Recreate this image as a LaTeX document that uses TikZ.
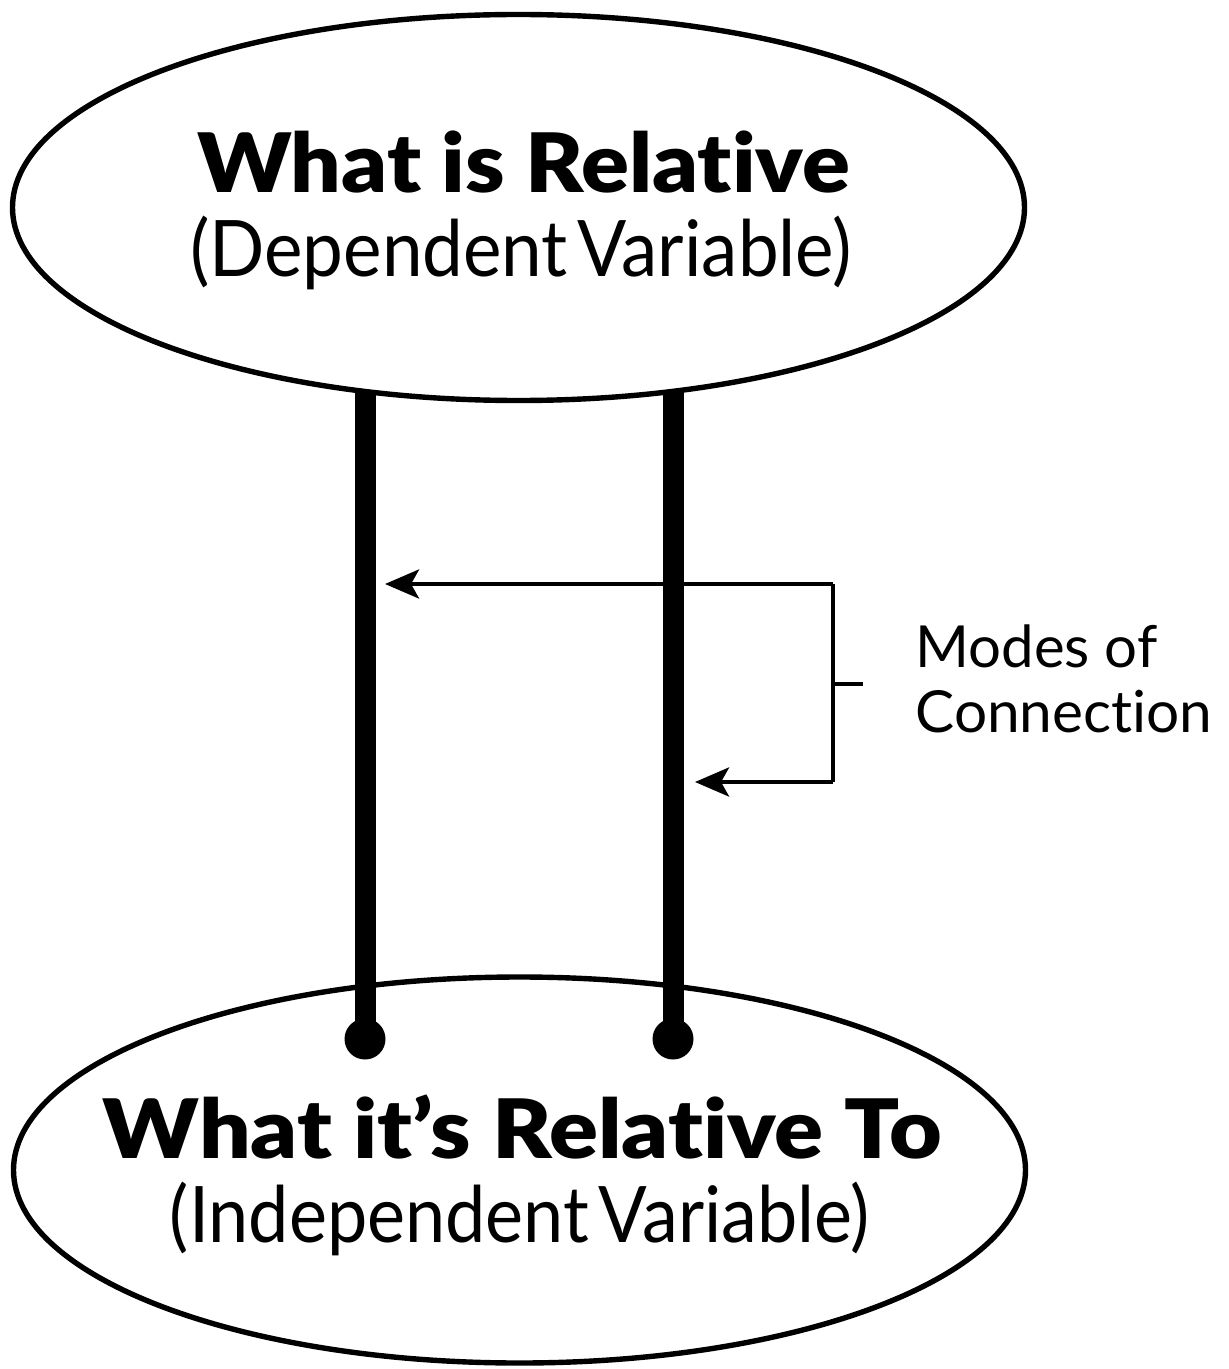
\documentclass[tikz,border=0pt]{standalone}
\usepackage{fontspec}
\usepackage{graphicx}
\setmainfont{Lato}[Ligatures={NoCommon,NoContextual}]
\newfontfamily\heavyfont{Lato Black}[Ligatures={NoCommon,NoContextual}]
\usetikzlibrary{shapes.geometric,arrows.meta}
\newsavebox\fitbox
\newcommand\fitw[2]{\sbox\fitbox{#2}\pgfmathsetmacro\myr{#1/\wd\fitbox}\scalebox{\myr}[1]{\usebox\fitbox}}
\tikzset{
  oval/.style={ellipse, draw, line width=2.7pt, inner sep=0pt, minimum width=506pt, minimum height=193pt},
  titletext/.style={anchor=base, inner sep=0pt, font=\heavyfont\fontsize{41}{41}\selectfont},
  subtext/.style={anchor=base, inner sep=0pt, font=\fontsize{39}{39}\selectfont},
  sidetext/.style={anchor=base west, inner sep=0pt, font=\fontsize{29}{29}\selectfont},
  bar/.style={line width=10.5pt},
  pin/.style={circle, fill=black, inner sep=0pt, minimum size=20.5pt},
  mode/.style={line width=2.2pt},
  modearrow/.style={line width=2.2pt, -{Stealth[length=17pt, width=14.5pt, inset=4pt]}}
}
\begin{document}
\begin{tikzpicture}[x=0.5pt, y=-0.5pt]
\useasboundingbox (0,0) rectangle (1228,1369);
% ellipses
\node[oval] (top) at (518.5,207.5) {};
\node[oval] (bot) at (519.5,1170) {};
% texts
\node[titletext] (t1) at (523.5,193) {\fitw{326.5}{What is Relative}};
\node[subtext] (t2) at (521,277) {\fitw{331}{(Dependent\kern-0.12em\ Variable)}};
\node[titletext] (b1) at (522.5,1158) {\fitw{419.5}{What it’s Relative To}};
\node[subtext] (b2) at (520,1242) {\fitw{350}{(Independent\kern-0.12em\ Variable)}};
% pins
\node[pin] (pl) at (365,1039) {};
\node[pin] (pr) at (673,1039) {};
\coordinate (al) at (365,391);
\coordinate (ar) at (673,391);
\draw[bar] (al) -- (pl.center);
\draw[bar] (ar) -- (pr.center);
% bracket
\coordinate (tipA) at (385,584);
\coordinate (tipB) at (695,782);
\coordinate (cA) at (833,584);
\coordinate (cB) at (833,782);
\coordinate (cM) at (833,684);
\coordinate (tick) at (863,684);
\draw[modearrow] (cA) -- (tipA);
\draw[modearrow] (cB) -- (tipB);
\draw[mode] (cA) -- (cB);
\draw[mode] (cM) -- (tick);
\node[sidetext] (m1) at (915,667) {\fitw{121}{Modes of}};
\node[sidetext] (m2) at (915,732) {\fitw{148.5}{Connection}};
\end{tikzpicture}
\end{document}
